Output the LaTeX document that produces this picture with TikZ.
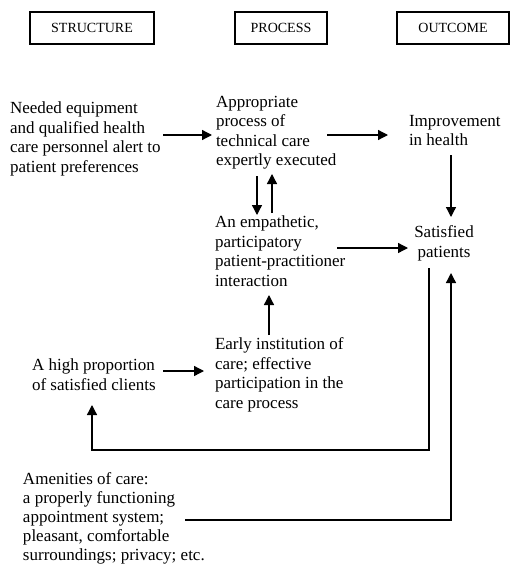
\documentclass[tikz,border=0pt]{standalone}
\usepackage{fontspec}
\setmainfont{Liberation Serif}
\usetikzlibrary{arrows.meta,calc}
\begin{document}
\begin{tikzpicture}[x=1pt,y=-1pt,
  txt/.style={inner sep=0pt,outer sep=0pt,align=left,anchor=north west,font=\fontsize{17}{19.5}\selectfont},
  hdr/.style={draw,line width=1.2pt,inner sep=0pt,minimum height=32pt,font=\fontsize{14}{16}\selectfont},
  arr/.style={line width=1.3pt,-{Triangle[length=10pt,width=10pt]}},
  ln/.style={line width=1.3pt}]
\useasboundingbox (0,0) rectangle (510,567);
% headers
\node[hdr,minimum width=124pt] (hs) at (92,28) {STRUCTURE};
\node[hdr,minimum width=92pt] (hp) at (281,28) {PROCESS};
\node[hdr,minimum width=112pt] (ho) at (453,28) {OUTCOME};
% text nodes
\node[txt] (need) at (10,102) {Needed equipment\\and qualified health\\care personnel alert to\\patient preferences};
\node[txt] (appr) at (216,96) {Appropriate\\process of\\technical care\\expertly executed};
\node[txt] (impr) at (409,115) {Improvement\\in health};
\node[txt] (emp) at (215,216) {An empathetic,\\participatory\\patient-practitioner\\interaction};
\node[txt,align=center,anchor=north] (sat) at (444,226) {Satisfied\\patients};
\node[txt] (early) at (215,338) {Early institution of\\care; effective\\participation in the\\care process};
\node[txt] (high) at (32,359) {A high proportion\\of satisfied clients};
\node[txt,font=\fontsize{17}{19}\selectfont] (amen) at (23,473) {Amenities of care:\\a properly functioning\\appointment system;\\pleasant, comfortable\\surroundings; privacy; etc.};
% connectors
\draw[arr] ($(need.north west)+(153,33)$) -- ($(appr.north west)+(-4,39)$);
\draw[arr] ($(appr.north west)+(111,39)$) -- ($(impr.north west)+(-21,20)$);
\draw[arr] ($(impr.north west)+(42,40)$) -- ($(sat.north)+(7,-9)$);
\draw[arr] ($(emp.north west)+(122,32)$) -- ($(sat.north)+(-36,22)$);
\draw[arr] ($(appr.north west)+(41,80)$) -- ($(emp.north west)+(42,-1)$);
\draw[arr] ($(emp.north west)+(57,-3)$) -- ($(appr.north west)+(56,78)$);
\draw[arr] ($(early.north west)+(54,-3)$) -- ($(emp.north west)+(54,79)$);
\draw[arr] ($(high.north west)+(131,12)$) -- ($(early.north west)+(-11,33)$);
\draw[arr] ($(sat.north)+(-15,42)$) -- ++(0,182) -| ($(high.north west)+(60,46)$);
\draw[arr] ($(amen.north west)+(162,47)$) -| ($(sat.north)+(7,47)$);
\end{tikzpicture}
\end{document}
